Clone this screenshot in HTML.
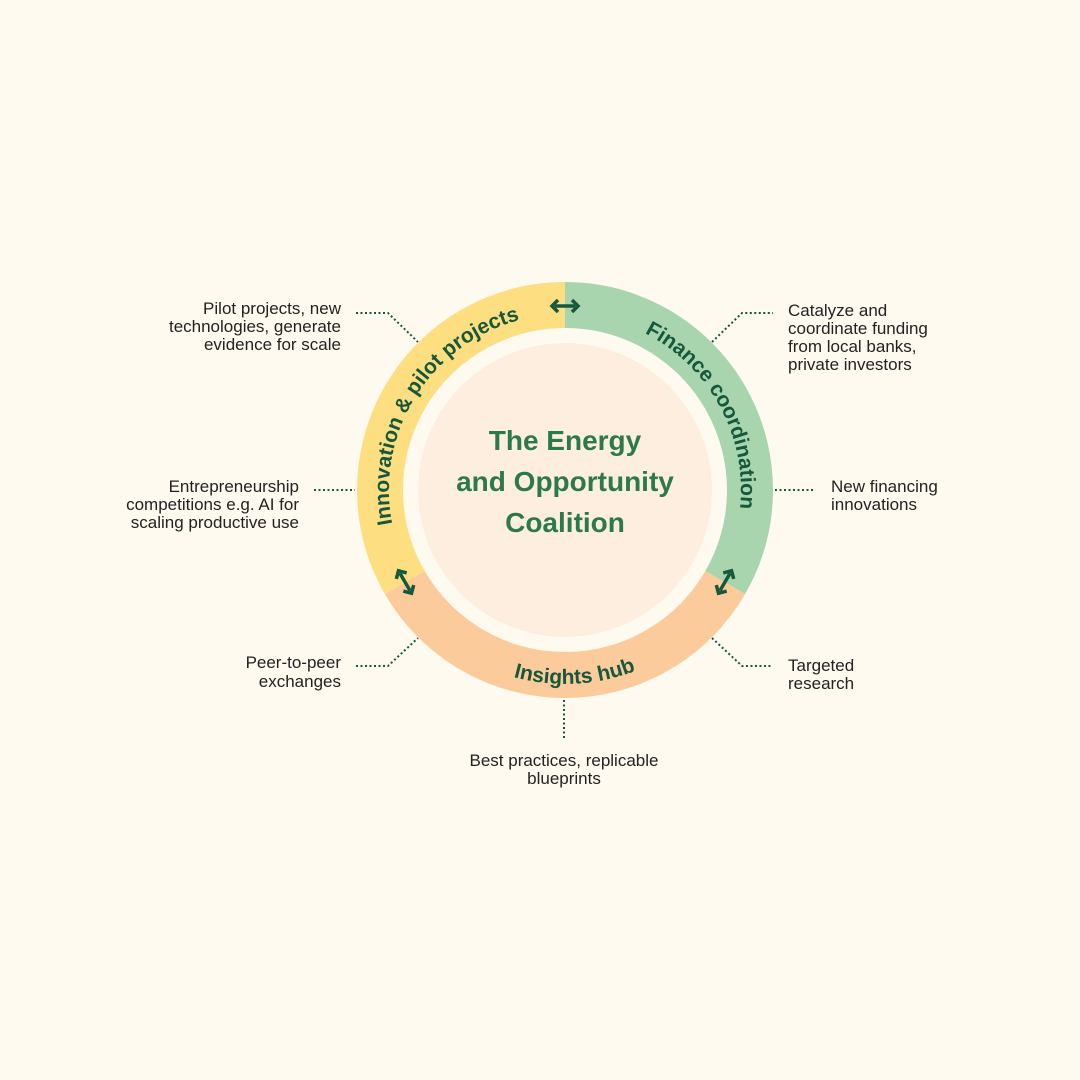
<!DOCTYPE html>
<html><head><meta charset="utf-8"><style>
html,body{margin:0;padding:0;background:#fefaef;}
svg{display:block}
.l{font-family:"Liberation Sans",sans-serif;font-size:17px;fill:#222;}
.r{font-family:"Liberation Sans",sans-serif;font-size:21px;font-weight:bold;fill:#17573b;}
.t{font-family:"Liberation Sans",sans-serif;font-size:28px;font-weight:bold;fill:#2c7a4b;}
.d{stroke:#17573b;stroke-width:2;fill:none;stroke-dasharray:2 2.5}
</style></head><body>
<svg width="1080" height="1080" viewBox="0 0 1080 1080">
<rect width="1080" height="1080" fill="#fefaef"/>
<path d="M404.8 582.5 A185 185 0 0 1 565 305" stroke="#fddf82" stroke-width="46" fill="none"/>
<path d="M565 305 A185 185 0 0 1 725.2 582.5" stroke="#a8d5ad" stroke-width="46" fill="none"/>
<path d="M725.2 582.5 A185 185 0 0 1 404.8 582.5" stroke="#fccb9c" stroke-width="46" fill="none"/>
<circle cx="565" cy="490" r="147" fill="#fdeee0"/>
<defs>
<path id="p1" d="M430.2 603.2 A176 176 0 0 1 607.6 319.2"/>
<path id="p2" d="M534.4 316.7 A176 176 0 0 1 693.7 610"/>
<path id="p3" d="M386.4 565.8 A194 194 0 0 0 750.5 546.7"/>
<g id="arr"><line x1="-10" y1="0" x2="10" y2="0" stroke="#17573b" stroke-width="3.5"/><path d="M-7 -6 L-13 0 L-7 6 M7 -6 L13 0 L7 6" stroke="#17573b" stroke-width="3.5" fill="none"/></g>
</defs>
<text class="r"><textPath href="#p1" startOffset="50%" text-anchor="middle">Innovation &amp; pilot projects</textPath></text>
<text class="r"><textPath href="#p2" startOffset="50%" text-anchor="middle">Finance coordination</textPath></text>
<text class="r"><textPath href="#p3" startOffset="50%" text-anchor="middle">Insights hub</textPath></text>
<use href="#arr" transform="translate(565,306)"/>
<use href="#arr" transform="translate(405,582) rotate(60)"/>
<use href="#arr" transform="translate(725,582) rotate(120)"/>
<text class="t" text-anchor="middle"><tspan x="565" y="450">The Energy</tspan><tspan x="565" y="491">and Opportunity</tspan><tspan x="565" y="532">Coalition</tspan></text>
<path class="d" d="M356 313 H388 L418 342"/>
<path class="d" d="M314 490 H355"/>
<path class="d" d="M356 666 H388 L418 638"/>
<path class="d" d="M564 700 V740"/>
<path class="d" d="M775 490 H815"/>
<path class="d" d="M712 342 L742 313 H773"/>
<path class="d" d="M712 638 L742 666 H773"/>
<text class="l" text-anchor="end"><tspan x="341" y="314">Pilot projects, new</tspan><tspan x="341" y="332">technologies, generate</tspan><tspan x="341" y="350">evidence for scale</tspan></text>
<text class="l" text-anchor="end"><tspan x="299" y="492">Entrepreneurship</tspan><tspan x="299" y="510">competitions e.g. AI for</tspan><tspan x="299" y="528">scaling productive use</tspan></text>
<text class="l" text-anchor="end"><tspan x="341" y="668">Peer-to-peer</tspan><tspan x="341" y="687">exchanges</tspan></text>
<text class="l" text-anchor="middle"><tspan x="564" y="766">Best practices, replicable</tspan><tspan x="564" y="784">blueprints</tspan></text>
<text class="l"><tspan x="831" y="492">New financing</tspan><tspan x="831" y="510">innovations</tspan></text>
<text class="l"><tspan x="788" y="316">Catalyze and</tspan><tspan x="788" y="334">coordinate funding</tspan><tspan x="788" y="352">from local banks,</tspan><tspan x="788" y="370">private investors</tspan></text>
<text class="l"><tspan x="788" y="671">Targeted</tspan><tspan x="788" y="689">research</tspan></text>
</svg>
</body></html>
